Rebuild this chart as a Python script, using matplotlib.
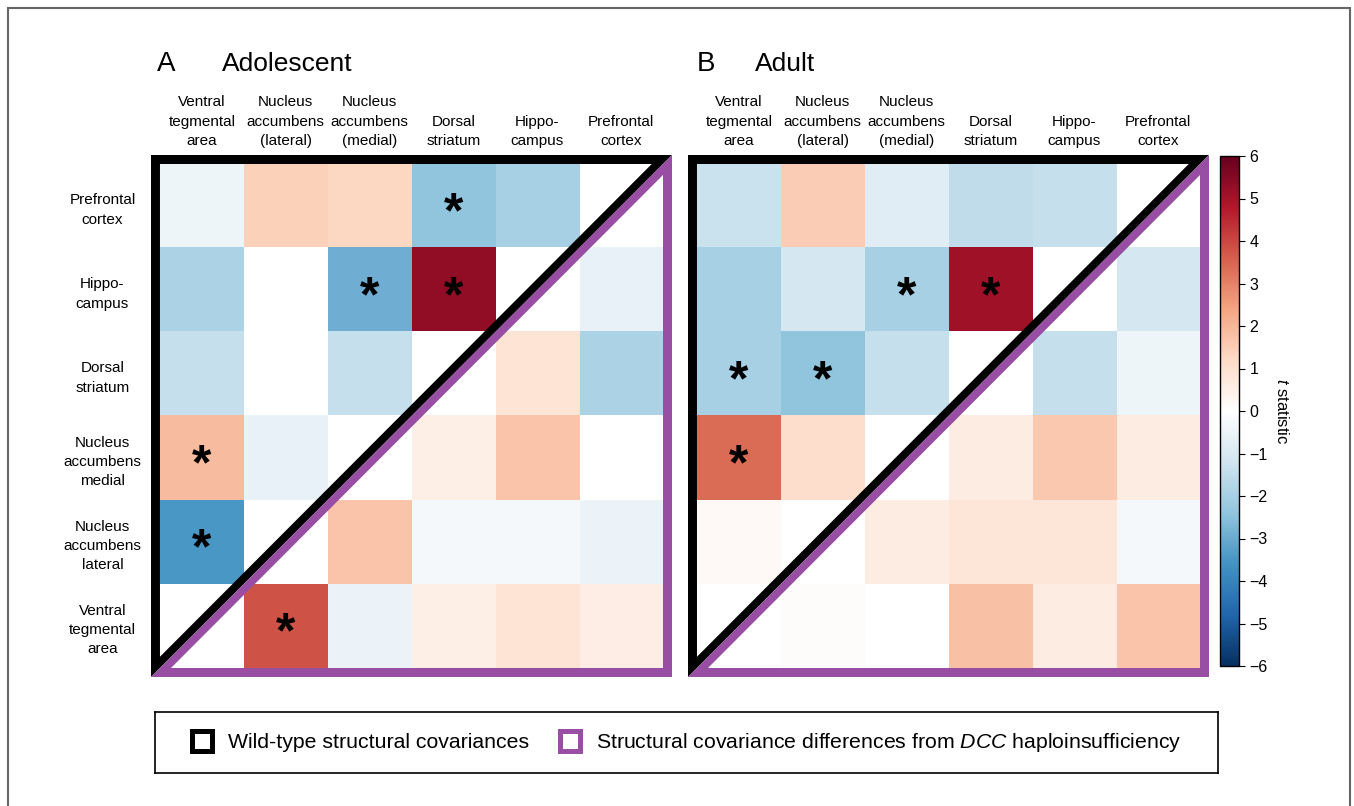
import numpy as np
import matplotlib.pyplot as plt
from matplotlib.colors import LinearSegmentedColormap
from matplotlib.patches import PathPatch, Rectangle
from matplotlib.path import Path
from matplotlib.lines import Line2D

plt.rcParams['font.family'] = ['Liberation Sans', 'DejaVu Sans']
plt.rcParams['mathtext.fontset'] = 'custom'
plt.rcParams['mathtext.rm'] = 'Liberation Sans'
plt.rcParams['mathtext.it'] = 'Liberation Sans:italic'

col_labels = ['Ventral\ntegmental\narea', 'Nucleus\naccumbens\n(lateral)',
              'Nucleus\naccumbens\n(medial)', 'Dorsal\nstriatum',
              'Hippo-\ncampus', 'Prefrontal\ncortex']
row_labels = ['Prefrontal\ncortex', 'Hippo-\ncampus', 'Dorsal\nstriatum',
              'Nucleus\naccumbens\nmedial', 'Nucleus\naccumbens\nlateral',
              'Ventral\ntegmental\narea']

nan = np.nan
# t statistics, rows top to bottom (PFC ... VTA), columns VTA ... PFC
adolescent_t = np.array([
    [-0.4, 1.4, 1.25, -2.4, -2.0, nan],
    [-1.9, 0.0, -2.9, 5.3, nan, -0.6],
    [-1.4, 0.0, -1.4, nan, 0.9, -1.9],
    [1.9, -0.6, nan, 0.5, 1.7, 0.0],
    [-3.5, nan, 1.7, -0.3, -0.3, -0.5],
    [nan, 3.8, -0.5, 0.5, 0.9, 0.55],
])
adult_t = np.array([
    [-1.3, 1.5, -0.8, -1.5, -1.4, nan],
    [-2.0, -1.1, -2.0, 5.1, nan, -1.1],
    [-2.0, -2.4, -1.4, nan, -1.4, -0.4],
    [3.4, 1.1, nan, 0.6, 1.6, 0.6],
    [0.2, nan, 0.6, 0.85, 0.85, -0.3],
    [nan, 0.1, 0.0, 1.8, 0.6, 1.7],
])
# significant cells as (row, column)
adolescent_sig = [(0, 3), (1, 2), (1, 3), (3, 0), (4, 0), (5, 1)]
adult_sig = [(1, 2), (1, 3), (2, 0), (2, 1), (3, 0)]

wt_label = 'Wild-type structural covariances'
diff_label = r'Structural covariance differences from $\it{DCC}$ haploinsufficiency'

PURPLE = '#984ea3'
rdbu = ['#053061', '#2166ac', '#4393c3', '#92c5de', '#d1e5f0', '#ffffff',
        '#fddbc7', '#f4a582', '#d6604d', '#b2182b', '#67001f']
# odd N so that t = 0 lands exactly on white
cmap = LinearSegmentedColormap.from_list('rdbu_white', rdbu, N=255)
cmap.set_bad('white')

W, H = 1354, 806
fig = plt.figure(figsize=(W / 100, H / 100), dpi=100)


def px_axes(x0, y0, x1, y1):
    return fig.add_axes([x0 / W, 1 - y1 / H, (x1 - x0) / W, (y1 - y0) / H])


T = 0.107            # outer border thickness (cell units)
D = 0.095 * np.sqrt(2)  # diagonal band offset along x + y


def ring(outer, inner):
    verts = list(outer) + [outer[0]] + list(inner[::-1]) + [inner[-1]]
    codes = ([Path.MOVETO] + [Path.LINETO] * (len(outer) - 1) + [Path.CLOSEPOLY]) * 2
    return Path(verts, codes)


def draw_panel(ax, values, stars, show_rows):
    n = values.shape[0]
    im = ax.imshow(np.ma.masked_invalid(values), cmap=cmap, vmin=-6, vmax=6,
                   extent=(0, n, n, 0), interpolation='nearest', aspect='auto')
    ax.set_xlim(-T, n + T)
    ax.set_ylim(n + T, -T)
    ax.xaxis.tick_top()
    ax.set_xticks(np.arange(n) + 0.5, col_labels, fontsize=11, linespacing=1.48)
    ax.tick_params(axis='x', length=0, pad=5)
    if show_rows:
        ax.set_yticks(np.arange(n) + 0.5, row_labels, fontsize=11,
                      linespacing=1.48, ha='center')
        ax.tick_params(axis='y', length=0, pad=35)
    else:
        ax.set_yticks([])
    for s in ax.spines.values():
        s.set_visible(False)

    black = ring([(-T, -T), (n + T, -T), (-T, n + T)],
                 [(0, 0), (n - D, 0), (0, n - D)])
    purple = ring([(n + T, -T), (n + T, n + T), (-T, n + T)],
                  [(n, D), (n, n), (D, n)])
    ax.add_patch(PathPatch(black, facecolor='black', edgecolor='none', clip_on=False))
    ax.add_patch(PathPatch(purple, facecolor=PURPLE, edgecolor='none', clip_on=False))

    for r, c in stars:
        ax.text(c + 0.5, r + 0.6, '*', ha='center', va='center',
                fontsize=36, fontweight='bold', color='black')
    return im


ax_a = px_axes(151, 155, 672, 677)
im = draw_panel(ax_a, adolescent_t, adolescent_sig, True)
ax_b = px_axes(688, 155, 1209, 677)
draw_panel(ax_b, adult_t, adult_sig, False)

fig.text(157 / W, 1 - 71 / H, 'A', fontsize=20, va='baseline')
fig.text(222 / W, 1 - 71 / H, 'Adolescent', fontsize=19, va='baseline')
fig.text(697 / W, 1 - 71 / H, 'B', fontsize=20, va='baseline')
fig.text(755 / W, 1 - 71 / H, 'Adult', fontsize=19, va='baseline')

cax = px_axes(1220, 156, 1239, 666)
cb = fig.colorbar(im, cax=cax, ticks=np.arange(-6, 7))
cb.ax.tick_params(labelsize=11.5, length=4, width=0.8)
cb.outline.set_linewidth(1)
cb.set_label('$t$ statistic', rotation=270, fontsize=12, labelpad=16)

# legend box
lax = px_axes(155, 712, 1218, 773)
lax.set_xticks([])
lax.set_yticks([])
for s in lax.spines.values():
    s.set_linewidth(1.2)
handles = [Line2D([], [], ls='none', marker='s', markersize=14.5,
                  markerfacecolor='white', markeredgecolor='black', markeredgewidth=3.6),
           Line2D([], [], ls='none', marker='s', markersize=14.5,
                  markerfacecolor='white', markeredgecolor=PURPLE, markeredgewidth=3.6)]
lax.legend(handles, [wt_label, diff_label], loc='center', ncol=2, frameon=False,
           fontsize=15.3, handletextpad=0.75, columnspacing=1.4, handlelength=1.0)

# outer frame
fig.patches.append(Rectangle((8 / W, -0.05), (1350 - 8) / W, 1.05 - 8 / H,
                             transform=fig.transFigure, fill=False,
                             edgecolor='#666666', linewidth=1.5))

fig.savefig('out.png', dpi=100)
